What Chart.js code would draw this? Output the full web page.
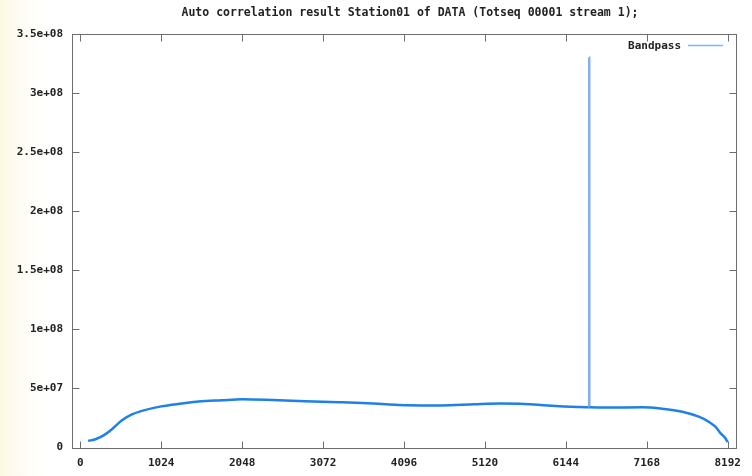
<!DOCTYPE html>
<html>
<head>
<meta charset="utf-8">
<script src="https://cdn.jsdelivr.net/npm/chart.js@4"></script>
<style>
  html, body { margin: 0; padding: 0; background: #fff; }
  canvas { display: block; }
</style>
</head>
<body>
<canvas id="grafico" width="752" height="476"></canvas>
<script>
const titulo = 'Auto correlation result Station01 of DATA (Totseq 00001 stream 1);';
const serieNome = 'Bandpass';

// canal -> valor
const canais = [100, 200, 300, 401, 527, 653, 780, 1024, 1286, 1497, 1792, 2048, 2432, 2850, 3280, 3570, 3910,
  4143, 4564, 4986, 5318, 5618, 5913, 6293, 6439, 6440, 6441, 6688, 7110, 7363, 7616, 7826, 7952, 8036, 8100, 8163, 8191];
const valores = [5.5e6, 7.2e6, 10.5e6, 15.5e6, 23.0e6, 28.0e6, 31.0e6, 34.8e6, 37.2e6, 38.9e6, 40.0e6, 40.8e6, 40.2e6, 39.2e6, 38.3e6, 37.6e6, 36.5e6,
  35.8e6, 35.6e6, 36.6e6, 37.2e6, 36.9e6, 35.6e6, 34.3e6, 34.0e6, 330e6, 34.0e6, 33.8e6, 34.0e6, 32.8e6, 30.3e6, 26.1e6, 21.8e6, 17.6e6, 12.2e6, 7.8e6, 4.5e6];

const xTicks = [0, 1024, 2048, 3072, 4096, 5120, 6144, 7168, 8192];
const yTicks = [0, 5e7, 1e8, 1.5e8, 2e8, 2.5e8, 3e8, 3.5e8];
const yTickLabels = ['0', '5e+07', '1e+08', '1.5e+08', '2e+08', '2.5e+08', '3e+08', '3.5e+08'];

const fonte = { family: "'DejaVu Sans Mono', monospace", size: 11, weight: 'bold' };
const corLinha = '#1e80e8';
const corSpike = '#86aef0';

const pontos = canais.map((c, i) => ({ x: c, y: valores[i] }));

// fundo, titulo, moldura com ticks para dentro e legenda
const moldura = {
  id: 'moldura',
  beforeDraw(chart) {
    const ctx = chart.ctx;
    ctx.save();
    ctx.fillStyle = '#fff';
    ctx.fillRect(0, 0, chart.width, chart.height);
    const g = ctx.createLinearGradient(0, 0, 60, 0);
    g.addColorStop(0, '#fbf8e2');
    g.addColorStop(1, 'rgba(255,255,255,0)');
    ctx.fillStyle = g;
    ctx.fillRect(0, 0, 60, chart.height);
    ctx.restore();
  },
  afterDatasetsDraw(chart) {
    const ctx = chart.ctx;
    const a = chart.chartArea;
    const xs = chart.scales.x, ys = chart.scales.y;
    ctx.save();
    ctx.strokeStyle = '#6e6e6e';
    ctx.lineWidth = 1;
    const L = Math.round(a.left) + 0.5, R = Math.round(a.right) + 0.5;
    const T = Math.round(a.top) + 0.5, B = Math.round(a.bottom) + 0.5;
    ctx.strokeRect(L, T, R - L, B - T);
    ctx.beginPath();
    xTicks.forEach(v => {
      const px = Math.round(xs.getPixelForValue(v)) + 0.5;
      ctx.moveTo(px, B); ctx.lineTo(px, B - 7);
      ctx.moveTo(px, T); ctx.lineTo(px, T + 7);
    });
    yTicks.forEach(v => {
      const py = Math.round(ys.getPixelForValue(v)) + 0.5;
      ctx.moveTo(L, py); ctx.lineTo(L + 7, py);
      ctx.moveTo(R, py); ctx.lineTo(R - 7, py);
    });
    ctx.stroke();

    // titulo
    ctx.fillStyle = '#222';
    ctx.font = "bold 11.5px 'DejaVu Sans Mono', monospace";
    ctx.textAlign = 'center';
    ctx.textBaseline = 'middle';
    ctx.fillText(titulo, 410, 13);

    // legenda
    ctx.font = "bold 11px 'DejaVu Sans Mono', monospace";
    ctx.textAlign = 'right';
    ctx.fillText(chart.data.datasets[0].label, 681, 46);
    ctx.strokeStyle = '#7ab8f5';
    ctx.lineWidth = 1.5;
    ctx.beginPath();
    ctx.moveTo(688, 45.5); ctx.lineTo(723, 45.5);
    ctx.stroke();
    ctx.restore();
  }
};

const indiceSpike = valores.indexOf(Math.max(...valores));

new Chart(document.getElementById('grafico'), {
  type: 'line',
  data: {
    datasets: [{
      label: serieNome,
      data: pontos,
      borderColor: corLinha,
      borderWidth: 2.5,
      pointRadius: 0,
      fill: false,
      cubicInterpolationMode: 'monotone',
      segment: {
        borderColor: c => (c.p0DataIndex === indiceSpike - 1 || c.p1DataIndex === indiceSpike + 1) ? corSpike : undefined
      }
    }]
  },
  options: {
    responsive: false,
    animation: false,
    devicePixelRatio: 1,
    layout: { padding: { left: 0, right: 16, top: 34, bottom: 0 } },
    plugins: {
      legend: { display: false },
      title: { display: false },
      tooltip: { enabled: false }
    },
    scales: {
      x: {
        type: 'linear',
        min: -105,
        max: 8297,
        grid: { display: false, drawTicks: false },
        border: { display: false },
        afterBuildTicks: s => { s.ticks = xTicks.map(v => ({ value: v })); },
        afterFit: s => { s.height = 28.5; },
        ticks: {
          font: fonte,
          color: '#222',
          padding: 9,
          maxRotation: 0,
          autoSkip: false,
          callback: v => String(v)
        }
      },
      y: {
        min: 0,
        max: 3.5e8,
        grid: { display: false, drawTicks: false },
        border: { display: false },
        afterBuildTicks: s => { s.ticks = yTicks.map(v => ({ value: v })); },
        afterFit: s => { s.width = 72; },
        ticks: {
          font: fonte,
          color: '#222',
          padding: 9,
          autoSkip: false,
          callback: v => yTickLabels[yTicks.indexOf(v)]
        }
      }
    }
  },
  plugins: [moldura]
});
</script>
</body>
</html>
